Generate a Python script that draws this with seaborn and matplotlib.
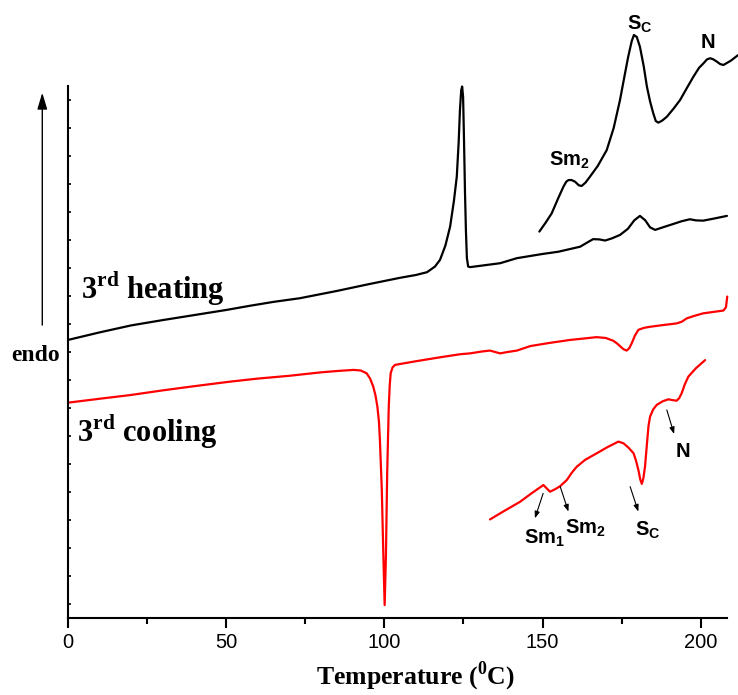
import seaborn as sns
import matplotlib.pyplot as plt
import pandas as pd

# 3rd heating, full trace
heat_T = [0, 10, 20, 30, 40, 50, 57.5, 65, 73.3, 85, 95, 105, 110, 113.5, 116, 117.6,
          119.3, 120.8, 122, 122.9, 123.5, 123.9, 124.3, 124.6, 124.9, 125.2, 125.5,
          125.8, 126.1, 126.5, 127.1, 136.6, 141.9, 150, 155, 161.9, 164, 166, 168,
          169.8, 172, 174.5, 177, 179, 180.8, 182.5, 184, 185.6, 188, 191.3, 194,
          196.6, 198.5, 200.8, 204, 208.3]
heat_y = [9.93, 10.20, 10.45, 10.64, 10.82, 11.00, 11.15, 11.29, 11.42, 11.68, 11.92,
          12.15, 12.25, 12.35, 12.55, 12.79, 13.3, 13.98, 14.9, 15.76, 17.0, 18.14,
          18.85, 18.98, 18.6, 17.0, 15.18, 13.8, 12.85, 12.55, 12.53, 12.67, 12.85,
          13.0, 13.08, 13.26, 13.4, 13.53, 13.52, 13.48, 13.56, 13.68, 13.9, 14.2,
          14.36, 14.2, 13.95, 13.86, 13.95, 14.07, 14.17, 14.24, 14.2, 14.19, 14.26,
          14.36]

# 3rd heating, magnified part
heat_zoom_T = [149.0, 151, 152.9, 155, 156.6, 157.5, 158.2, 159.2, 160.3, 161.5, 162.4,
               163.6, 165.0, 167.5, 170.3, 172.5, 174.5, 176, 177.1, 178.2, 178.9,
               179.8, 180.8, 182, 183.0, 184, 185.0, 185.8, 186.6, 187.8, 189.3, 191.5,
               193.5, 195.5, 197.7, 199.5, 200.9, 202, 203.0, 204.0, 205.1, 206.2,
               207.2, 209.5, 211.8]
heat_zoom_y = [13.80, 14.12, 14.45, 15.0, 15.40, 15.58, 15.64, 15.64, 15.58, 15.45,
               15.43, 15.55, 15.76, 16.15, 16.71, 17.5, 18.5, 19.4, 20.05, 20.6, 20.82,
               20.75, 20.40, 19.7, 18.98, 18.45, 18.03, 17.75, 17.69, 17.76, 17.90,
               18.2, 18.5, 18.9, 19.33, 19.65, 19.81, 19.95, 19.99, 19.95, 19.87, 19.78,
               19.75, 19.9, 20.1]

# 3rd cooling, full trace
cool_T = [0, 10, 19.6, 30, 40, 51.2, 60, 70, 79.7, 85, 90.2, 92.5, 94.4, 95.5, 96.5,
          97.2, 97.8, 98.3, 98.6, 99.2, 99.7, 100.1, 100.5, 100.9, 101.2, 101.4, 101.7,
          102.0, 102.6, 103.4, 110, 117.6, 124, 127.1, 131, 133.4, 135, 136.6, 139,
          141.9, 144, 146.1, 152, 158.7, 163, 167.1, 170, 172.4, 173.6, 174.5, 175.6,
          176.6, 177.4, 178.2, 179.2, 180.3, 182, 184.0, 188, 192.4, 194, 195.6, 198,
          200.8, 204, 207.2, 208.0, 208.4]
cool_y = [7.69, 7.83, 7.96, 8.13, 8.28, 8.44, 8.55, 8.65, 8.77, 8.82, 8.86, 8.84, 8.74,
          8.55, 8.26, 7.95, 7.55, 7.0, 6.36, 4.57, 2.19, 0.46, 2.19, 5.17, 6.6, 7.55,
          8.3, 8.74, 8.95, 9.04, 9.17, 9.31, 9.42, 9.45, 9.52, 9.55, 9.5, 9.45, 9.5,
          9.55, 9.63, 9.71, 9.82, 9.93, 9.98, 10.03, 10.0, 9.90, 9.8, 9.71, 9.6, 9.55,
          9.63, 9.81, 10.08, 10.29, 10.36, 10.40, 10.46, 10.52, 10.58, 10.70, 10.79,
          10.88, 10.93, 10.98, 11.1, 11.48]

# 3rd cooling, magnified part
cool_zoom_T = [133.4, 138, 142.9, 146.5, 150.3, 151.4, 152.4, 154, 155.6, 157.7, 159.2,
               160.8, 163.5, 167.1, 170.5, 174.0, 175.6, 177.3, 178.8, 179.6, 180.3,
               180.9, 181.4, 181.9, 182.4, 183.0, 183.5, 184.0, 185, 186.1, 188, 189.8,
               191.2, 192.4, 193.2, 194.0, 195, 196.1, 198.5, 201.4]
cool_zoom_y = [3.52, 3.83, 4.15, 4.45, 4.75, 4.62, 4.51, 4.6, 4.71, 4.93, 5.18, 5.40,
               5.65, 5.88, 6.1, 6.30, 6.24, 6.07, 5.88, 5.6, 5.29, 4.95, 4.79, 5.0, 5.40,
               6.2, 6.85, 7.19, 7.45, 7.61, 7.74, 7.81, 7.78, 7.76, 7.85, 8.03, 8.35,
               8.62, 8.92, 9.21]

# transition labels
heat_labels = ["Sm$_\\mathsf{2}$", "S$_\\mathsf{C}$", "N"]
heat_label_T = [158.4, 180.8, 202.3]
heat_label_y = [16.36, 21.2, 20.57]

cool_labels = ["Sm$_\\mathsf{1}$", "Sm$_\\mathsf{2}$", "S$_\\mathsf{C}$", "N"]
cool_label_T = [150.5, 163.5, 183.4, 194.4]
cool_label_y = [2.86, 3.2, 3.14, 5.93]
cool_arrow_from = [(150.2, 4.45), (155.6, 4.69), (177.7, 4.69), (189.3, 7.43)]
cool_arrow_to = [(147.6, 3.56), (158.2, 3.80), (180.3, 3.80), (191.6, 6.57)]

sns.set_style("ticks")
plt.rcParams['font.family'] = ['Liberation Sans', 'DejaVu Sans']
plt.rcParams['mathtext.fontset'] = 'custom'
plt.rcParams['mathtext.rm'] = 'Liberation Serif:bold'
plt.rcParams['mathtext.sf'] = 'Liberation Sans:bold'
for k in ['text.color', 'axes.labelcolor', 'xtick.color', 'ytick.color', 'axes.edgecolor']:
    plt.rcParams[k] = 'black'

fig = plt.figure(figsize=(7.38, 6.95), dpi=100)
ax = fig.add_axes([68 / 738, 77 / 695, 670 / 738, 618 / 695])

for T, y, c in [(heat_T, heat_y, 'black'), (heat_zoom_T, heat_zoom_y, 'black'),
                (cool_T, cool_y, 'red'), (cool_zoom_T, cool_zoom_y, 'red')]:
    d = pd.DataFrame({'T': T, 'y': y})
    sns.lineplot(data=d, x='T', y='y', color=c, lw=1.6, estimator=None, sort=False,
                 ax=ax, clip_on=False)

ax.set_xlim(0, 211.8)
ax.set_ylim(0, 22.07)
ax.set_xlabel('')
ax.set_ylabel('')

ax.spines['top'].set_visible(False)
ax.spines['right'].set_visible(False)
ax.spines['left'].set_bounds(0, 19)
ax.spines['bottom'].set_bounds(0, 208.4)
for s in ['left', 'bottom']:
    ax.spines[s].set_linewidth(1.5)

ax.set_xticks([0, 50, 100, 150, 200])
ax.set_xticks([25, 75, 125, 175], minor=True)
ax.tick_params(axis='x', which='major', direction='out', length=7, width=1.5,
               labelsize=14.5, pad=4)
ax.tick_params(axis='x', which='minor', direction='out', length=4, width=1.5)
ax.set_yticks([k + 0.5 for k in range(19)])
ax.tick_params(axis='y', which='major', direction='in', length=2.5, width=1.2,
               labelleft=False)

serif = dict(family='Liberation Serif', weight='bold')
ax.text(4.0, 11.38, "3$^{\\mathrm{rd}}$ heating", fontsize=22, va='baseline', **serif)
ax.text(2.9, 6.3, "3$^{\\mathrm{rd}}$ cooling", fontsize=22, va='baseline', **serif)
ax.text(-10.1, 9.39, "endo", fontsize=17, ha='center', va='center', **serif)
ax.annotate('', xy=(-8.13, 18.76), xytext=(-8.13, 10.46), annotation_clip=False,
            arrowprops=dict(arrowstyle='-|>,head_length=1.0,head_width=0.3',
                            lw=1, color='black', mutation_scale=10,
                            shrinkA=0, shrinkB=0))

for lab, x, y in zip(heat_labels, heat_label_T, heat_label_y):
    ax.text(x, y, lab, fontsize=14.5, weight='bold', ha='center', va='center')
for lab, x, y in zip(cool_labels, cool_label_T, cool_label_y):
    ax.text(x, y, lab, fontsize=14.5, weight='bold', ha='center', va='center')
for p0, p1 in zip(cool_arrow_from, cool_arrow_to):
    ax.annotate('', xy=p1, xytext=p0,
                arrowprops=dict(arrowstyle='-|>,head_length=0.4,head_width=0.15',
                                lw=0.8, color='black', mutation_scale=10,
                                shrinkA=0, shrinkB=0))

fig.text(415 / 738, 1 - 676 / 695, "Temperature ($^{\\mathrm{0}}$C)", fontsize=18.5,
         ha='center', va='center', **serif)

fig.savefig('out.png', dpi=100)
